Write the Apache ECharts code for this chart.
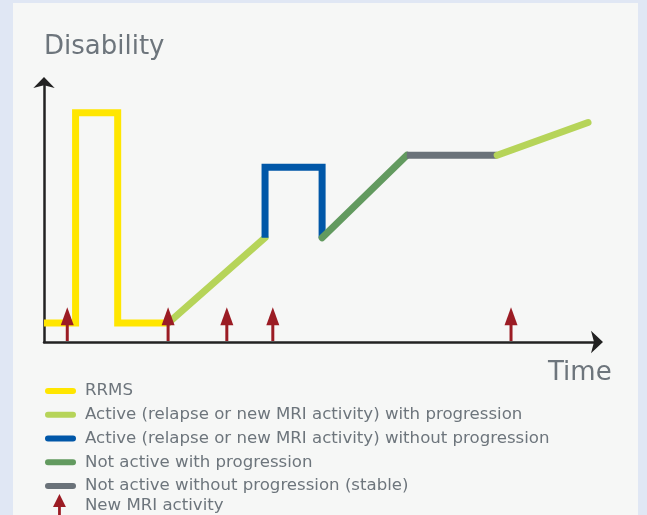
<!DOCTYPE html>
<html>
<head>
<meta charset="utf-8">
<script src="https://cdn.jsdelivr.net/npm/echarts@6/dist/echarts.min.js"></script>
<style>
html,body{margin:0;padding:0;background:#e0e7f4;}
#chart{width:647px;height:515px;}
</style>
</head>
<body>
<div id="chart"></div>
<script>
// Values (time 0-100, disability 0-100)
const rrms = [[0,7.3],[5.7,7.3],[5.7,88.2],[13.3,88.2],[13.3,7.3],[22.4,7.3]];
const activeProg1 = [[22.4,7.3],[39.9,40.1]];
const activeNoProg = [[39.9,40.1],[39.9,67.2],[50.2,67.2],[50.2,40.1]];
const notActiveProg = [[50.2,40.1],[65.5,71.8]];
const notActiveStable = [[65.5,71.8],[81.8,71.8]];
const activeProg2 = [[81.8,71.8],[98.2,84.4]];
const mriActivity = [[4.2,13.4],[22.4,13.4],[33.0,13.4],[41.3,13.4],[84.3,13.4]];

const names = {
  rrms: 'RRMS',
  ap: 'Active (relapse or new MRI activity) with progression',
  anp: 'Active (relapse or new MRI activity) without progression',
  nap: 'Not active with progression',
  nanp: 'Not active without progression (stable)',
  mri: 'New MRI activity'
};
const colors = {
  rrms: '#ffe600', ap: '#b6d459', anp: '#0057a8', nap: '#629a5f', nanp: '#6a7279', mri: '#9b1c24'
};

const pill = 'path://M3,0 H28 A3,3 0 0 1 28,6 H3 A3,3 0 0 1 3,0 Z';
const arrowIcon = 'path://M7,0 L14,14 L8.5,14 L8.5,26 L5.5,26 L5.5,14 L0,14 Z';

function lineSeries(name, color, data, cap) {
  return {
    type: 'line', name: name, data: data, color: color,
    symbol: 'none', silent: true, clip: false,
    lineStyle: { width: 7, color: color, cap: cap || 'butt', join: 'miter' },
    z: 3
  };
}

const chart = echarts.init(document.getElementById('chart'), null, {renderer: 'canvas'});
const textColor = '#6d757c';
const font = '"DejaVu Sans", "Liberation Sans", Arial, sans-serif';

chart.setOption({
  backgroundColor: '#e0e7f4',
  animation: false,
  graphic: [
    { type: 'rect', shape: { x: 13, y: 3, width: 625, height: 520 }, style: { fill: '#f6f7f6' }, z: -10, silent: true },
    { type: 'text', left: 44, top: 34, style: { text: 'Disability', fill: textColor, font: '26px ' + font }, z: 10 },
    { type: 'text', left: 548, top: 360, style: { text: 'Time', fill: textColor, font: '26px ' + font }, z: 10 }
  ],
  grid: { left: 44, right: 49, top: 82, bottom: 173 },
  xAxis: {
    type: 'value', min: 0, max: 100,
    axisLine: { show: true, lineStyle: { color: '#222', width: 2.5 }, symbol: ['none', 'arrow'], symbolSize: [17, 12], symbolOffset: [0, 5] },
    axisTick: { show: false }, axisLabel: { show: false }, splitLine: { show: false }
  },
  yAxis: {
    type: 'value', min: 0, max: 100,
    axisLine: { show: true, lineStyle: { color: '#222', width: 2.5 }, symbol: ['none', 'arrow'], symbolSize: [16, 11], symbolOffset: [0, 5] },
    axisTick: { show: false }, axisLabel: { show: false }, splitLine: { show: false }
  },
  legend: [
    {
      orient: 'vertical', left: 45, top: 382, padding: 0,
      itemWidth: 31, itemHeight: 6, itemGap: 5.75,
      icon: pill,
      textStyle: { color: textColor, fontSize: 16.6, fontFamily: font, lineHeight: 18, padding: [0, 0, 0, 4] },
      data: [names.rrms, names.ap, names.anp, names.nap, names.nanp],
      selectedMode: false
    },
    {
      orient: 'vertical', left: 53, top: 494, padding: 0,
      itemWidth: 31, itemHeight: 24,
      textStyle: { color: textColor, fontSize: 16.6, fontFamily: font, lineHeight: 18, padding: [2, 0, 0, 5] },
      data: [{ name: names.mri, icon: arrowIcon }],
      selectedMode: false
    }
  ],
  series: [
    lineSeries(names.rrms, colors.rrms, rrms, 'butt'),
    lineSeries(names.ap, colors.ap, activeProg1, 'round'),
    lineSeries(names.anp, colors.anp, activeNoProg, 'butt'),
    lineSeries(names.nap, colors.nap, notActiveProg, 'round'),
    lineSeries(names.nanp, colors.nanp, notActiveStable, 'butt'),
    lineSeries(names.ap, colors.ap, activeProg2, 'round'),
    {
      type: 'custom', name: names.mri, color: colors.mri, data: mriActivity, silent: true, z: 5,
      renderItem: function (params, api) {
        const base = api.coord([api.value(0), 0]);
        const tip = api.coord([api.value(0), api.value(1)]);
        const headH = 18, headW = 13;
        return {
          type: 'group',
          children: [
            { type: 'rect', shape: { x: base[0] - 1.5, y: tip[1] + headH - 2, width: 3, height: base[1] - tip[1] - headH + 1 }, style: { fill: colors.mri } },
            { type: 'polygon', shape: { points: [[tip[0], tip[1]], [tip[0] + headW / 2, tip[1] + headH], [tip[0] - headW / 2, tip[1] + headH]] }, style: { fill: colors.mri } }
          ]
        };
      }
    }
  ]
});
</script>
</body>
</html>
